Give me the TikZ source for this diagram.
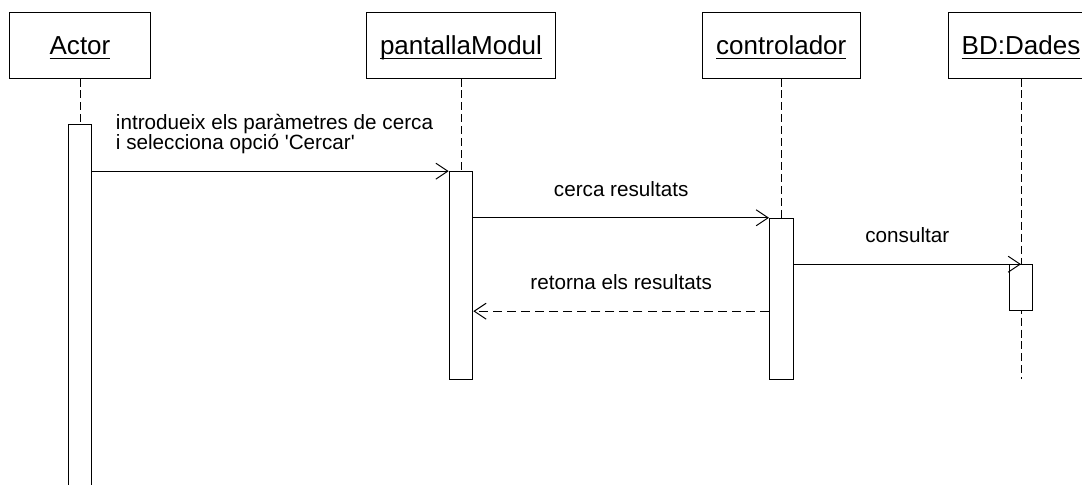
\documentclass[tikz,border=0pt]{standalone}
\usepackage{fontspec}
\setmainfont{Liberation Sans}[Ligatures=TeXOff]
\usetikzlibrary{arrows.meta}

\newsavebox{\namebox}
\newcommand{\objname}[1]{\sbox{\namebox}{#1}\rlap{\rule[-3.2pt]{\wd\namebox}{0.7pt}}\usebox{\namebox}}

\begin{document}
\begin{tikzpicture}[x=0.025cm, y=-0.025cm, line width=0.7pt,
    obj/.style={draw, fill=white, minimum height=1.625cm, inner sep=0pt, text depth=0pt, font=\fontsize{18.5}{22}\selectfont},
    bar/.style={draw, fill=white, minimum width=0.59cm, inner sep=0pt},
    life/.style={dash pattern=on 5.7pt off 2.8pt},
    msg/.style={-{Straight Barb[length=3mm,width=4mm]}},
    ret/.style={msg, dash pattern=on 6.4pt off 3.6pt},
    lbl/.style={above=5.2mm, inner sep=0pt, text depth=0pt, font=\fontsize{14.7}{14.5}\selectfont}]
    \useasboundingbox (0,0) rectangle (1082,485);
    \node[obj, minimum width=3.5cm]   (a) at (80,   45.5) {\objname{Actor}};
    \node[obj, minimum width=4.71cm]  (b) at (461,  45.5) {\objname{pantallaModul}};
    \node[obj, minimum width=3.94cm]  (c) at (781.3,45.5) {\objname{controlador}};
    \node[obj, minimum width=3.635cm] (d) at (1021, 45.5) {\objname{BD:Dades}};
    \coordinate (dend) at (1021, 379.3);
    \draw [life] (d) -- (dend);
    \node[bar, minimum height=9.625cm] (a1) at (80,   317.5) {};
    \node[bar, minimum height=5.19cm]  (b1) at (461,  275.5) {};
    \node[bar, minimum height=4.025cm] (c1) at (781.3,298.8) {};
    \node[bar, minimum height=1.15cm]  (d1) at (1021, 287.7) {};
    \draw [life] (a) -- (a1);
    \draw [life] (b) -- (b1);
    \draw [life] (c) -- (c1);
    \draw [msg] (a1.east |- b1.north) to node[lbl, align=left, xshift=1mm] {introdueix els paràmetres de cerca\\i selecciona opció 'Cercar'} (b1.north west);
    \draw [msg] (b1.east |- c1.north) to node[lbl] {cerca resultats} (c1.north west);
    \draw [msg] (c1.east |- d1.north) to node[lbl] {consultar} (d1.north);
    \draw [ret] (c1.west |- d1.south) to node[lbl] {retorna els resultats} (b1.east |- d1.south);
\end{tikzpicture}
\end{document}
